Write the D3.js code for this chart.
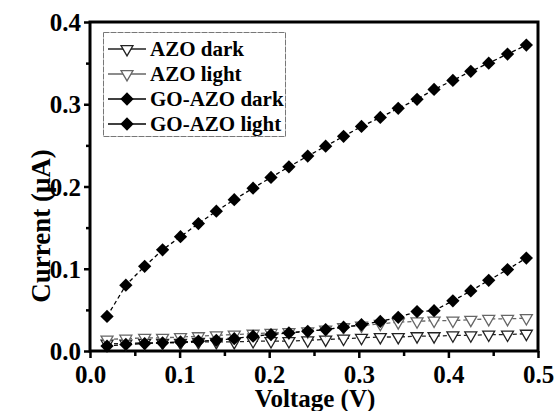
<!DOCTYPE html>
<html>
<head>
<meta charset="utf-8">
<script src="https://cdn.jsdelivr.net/npm/d3@7"></script>
<style>
  html, body { margin: 0; padding: 0; background: #fff; }
</style>
</head>
<body>
<div id="chart"></div>
<script>
'use strict';

const FONT = 'Liberation Serif';

// measured voltages (V)
const voltage = [0.019, 0.040, 0.061, 0.081, 0.101, 0.121, 0.141, 0.161, 0.182, 0.202, 0.222, 0.243,
                 0.263, 0.283, 0.303, 0.324, 0.344, 0.365, 0.384, 0.405, 0.425, 0.445, 0.466, 0.487];

// currents (uA)
const azoDark = [0.009, 0.009, 0.010, 0.010, 0.010, 0.011, 0.011, 0.011, 0.012, 0.012, 0.012, 0.013,
                 0.014, 0.015, 0.016, 0.017, 0.017, 0.018, 0.018, 0.019, 0.019, 0.020, 0.020, 0.021];
const azoLight = [0.014, 0.015, 0.016, 0.016, 0.017, 0.018, 0.019, 0.020, 0.021, 0.022, 0.023, 0.024,
                  0.026, 0.029, 0.031, 0.033, 0.035, 0.036, 0.037, 0.037, 0.038, 0.039, 0.039, 0.040];
const goAzoDark = [0.006, 0.008, 0.009, 0.010, 0.011, 0.012, 0.013, 0.015, 0.018, 0.020, 0.022, 0.024,
                   0.026, 0.029, 0.032, 0.036, 0.041, 0.048, 0.049, 0.061, 0.073, 0.086, 0.099, 0.113];
const goAzoLight = [0.042, 0.080, 0.103, 0.123, 0.139, 0.155, 0.170, 0.184, 0.198, 0.211, 0.224, 0.237,
                    0.249, 0.261, 0.273, 0.284, 0.295, 0.306, 0.318, 0.329, 0.340, 0.350, 0.361, 0.372];

const xTicks = [0.0, 0.1, 0.2, 0.3, 0.4, 0.5];
const yTicks = [0.0, 0.1, 0.2, 0.3, 0.4];
const xMinor = [0.05, 0.15, 0.25, 0.35, 0.45];
const yMinor = [0.05, 0.15, 0.25, 0.35];

const series = [
    {name: 'AZO dark', values: azoDark, shape: 'tri', stroke: '#222'},
    {name: 'AZO light', values: azoLight, shape: 'tri', stroke: '#666'},
    {name: 'GO-AZO dark', values: goAzoDark, shape: 'dia', stroke: '#000'},
    {name: 'GO-AZO light', values: goAzoLight, shape: 'dia', stroke: '#000'}
];

const width = 558, height = 411;
const plot = {left: 90, right: 538, top: 22, bottom: 351};

const svg = d3.select('#chart').append('svg')
    .attr('width', width)
    .attr('height', height);

const x = d3.scaleLinear().domain([0, 0.5]).range([plot.left, plot.right]);
const y = d3.scaleLinear().domain([0, 0.4]).range([plot.bottom, plot.top]);

const fmt = d3.format('.1f');

function boldText(sel, size) {
    sel.attr('font-family', null)
       .style('font-family', FONT)
       .attr('font-weight', 'bold')
       .attr('font-size', size)
       .attr('fill', '#000');
}

function styleAxis(g) {
    g.attr('font-family', null).attr('font-size', null);
    g.select('.domain').remove();
    g.selectAll('line').attr('stroke-width', 2.5);
    g.selectAll('text').call(boldText, 25);
}

// x axis
svg.append('g')
    .attr('transform', `translate(0,${plot.bottom})`)
    .call(d3.axisBottom(x).tickValues(xTicks).tickFormat(fmt).tickSize(7).tickPadding(7))
    .call(styleAxis);

svg.append('g')
    .attr('transform', `translate(0,${plot.bottom})`)
    .call(d3.axisBottom(x).tickValues(xMinor).tickFormat('').tickSize(5))
    .call(styleAxis);

// y axis
svg.append('g')
    .attr('transform', `translate(${plot.left},0)`)
    .call(d3.axisLeft(y).tickValues(yTicks).tickFormat(fmt).tickSize(6).tickPadding(3))
    .call(styleAxis)
    .selectAll('text').attr('dy', '0.34em');

svg.append('g')
    .attr('transform', `translate(${plot.left},0)`)
    .call(d3.axisLeft(y).tickValues(yMinor).tickFormat('').tickSize(4))
    .call(styleAxis);

// frame
svg.append('rect')
    .attr('x', plot.left)
    .attr('y', plot.top)
    .attr('width', plot.right - plot.left)
    .attr('height', plot.bottom - plot.top)
    .attr('fill', 'none')
    .attr('stroke', '#000')
    .attr('stroke-width', 3);

// axis titles
svg.append('text')
    .attr('x', 315)
    .attr('y', 407)
    .attr('text-anchor', 'middle')
    .call(boldText, 25)
    .text('Voltage (V)');

svg.append('text')
    .attr('transform', 'translate(50,226) rotate(-90)')
    .attr('text-anchor', 'middle')
    .call(boldText, 27)
    .text('Current (μA)');

const triPath = d3.symbol().type(d3.symbolTriangle).size(62)();
const diaPath = d3.symbol().type(d3.symbolSquare).size(88)();

function marker(sel, s) {
    if (s.shape === 'tri') {
        sel.append('path')
            .attr('d', triPath)
            .attr('transform', 'rotate(180)')
            .attr('fill', '#fff')
            .attr('stroke', s.stroke)
            .attr('stroke-width', 1.3);
    } else {
        sel.append('path')
            .attr('d', diaPath)
            .attr('transform', 'rotate(45)')
            .attr('fill', '#000');
    }
}

const line = d3.line()
    .x((d, i) => x(voltage[i]))
    .y(d => y(d));

series.forEach(s => {
    const g = svg.append('g');
    g.append('path')
        .datum(s.values)
        .attr('fill', 'none')
        .attr('stroke', s.stroke)
        .attr('stroke-width', 1.3)
        .attr('stroke-dasharray', '4,3')
        .attr('d', line);

    g.selectAll('g.pt')
        .data(s.values)
        .join('g')
        .attr('class', 'pt')
        .attr('transform', (d, i) => `translate(${x(voltage[i])},${y(d)})`)
        .each(function() { marker(d3.select(this), s); });
});

// legend
const legend = svg.append('g');
legend.append('rect')
    .attr('x', 103.5)
    .attr('y', 32.5)
    .attr('width', 182)
    .attr('height', 104)
    .attr('fill', '#fff')
    .attr('stroke', '#777')
    .attr('stroke-width', 1)
    .attr('stroke-dasharray', '6,1');

series.forEach((s, i) => {
    const row = legend.append('g')
        .attr('transform', `translate(0,${49 + i * 25})`);
    row.append('line')
        .attr('x1', 108).attr('x2', 146)
        .attr('y1', 0).attr('y2', 0)
        .attr('stroke', s.stroke)
        .attr('stroke-width', 1.5);
    const m = row.append('g').attr('transform', 'translate(127,0)');
    marker(m, s);
    row.append('text')
        .attr('x', 150)
        .attr('y', 7)
        .call(boldText, 21)
        .text(s.name);
});
</script>
</body>
</html>
